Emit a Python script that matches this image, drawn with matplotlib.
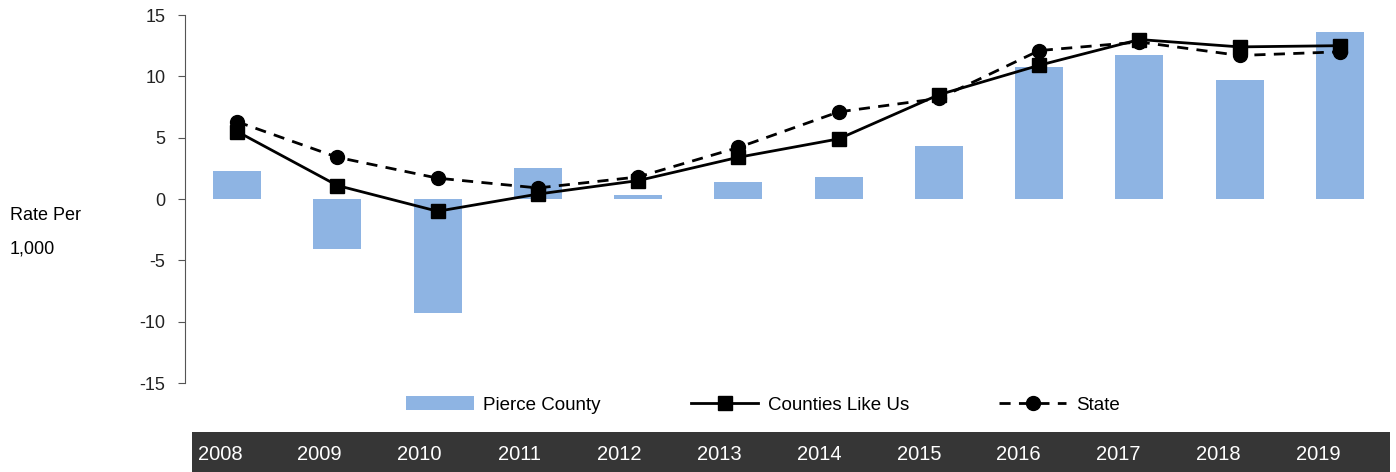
import numpy as np
import matplotlib
matplotlib.use("Agg")
import matplotlib.pyplot as plt

plt.rcParams['font.family'] = ['Liberation Sans', 'DejaVu Sans']

years = ['2008', '2009', '2010', '2011', '2012', '2013', '2014', '2015', '2016', '2017', '2018', '2019']
pierce = [2.3, -4.1, -9.3, 2.5, 0.3, 1.4, 1.8, 4.3, 10.8, 11.7, 9.7, 13.6]
counties_like_us = [5.5, 1.1, -1.0, 0.4, 1.5, 3.4, 4.9, 8.5, 10.9, 13.0, 12.4, 12.5]
state = [6.3, 3.4, 1.7, 0.9, 1.8, 4.2, 7.1, 8.2, 12.1, 12.8, 11.7, 12.0]
yticks = [-15, -10, -5, 0, 5, 10, 15]

W, H = 1396, 472
fig = plt.figure(figsize=(W / 100, H / 100), dpi=100)

ax = fig.add_axes([185 / W, (H - 383) / H, (1390 - 185) / W, (383 - 15) / H])
x = np.arange(len(years))
bars = ax.bar(x, pierce, width=0.48, color='#8EB4E3', label='Pierce County', zorder=1)
l1, = ax.plot(x, counties_like_us, color='black', lw=2, marker='s', markersize=10,
              label='Counties Like Us', zorder=3)
l2, = ax.plot(x, state, color='black', lw=2, ls=(0, (4, 3)), marker='o', markersize=10,
              label='State', zorder=2)

ax.set_xlim(-0.52, 11.5)
ax.set_ylim(-15, 15)
ax.set_yticks(yticks)
ax.set_yticklabels([str(v) for v in yticks], fontsize=13, color='#222222')
ax.set_xticks([])
for s in ['top', 'right', 'bottom']:
    ax.spines[s].set_visible(False)
ax.spines['left'].set_color('#555555')
ax.tick_params(axis='y', direction='out', length=5, color='#555555', pad=9)

fig.text(10 / W, 1 - 216 / H, 'Rate Per', fontsize=13, va='center', ha='left')
fig.text(10 / W, 1 - 249 / H, '1,000', fontsize=13, va='center', ha='left')

fig.legend(handles=[bars, l1, l2], loc='center', bbox_to_anchor=(763 / W, 1 - 405 / H),
           ncol=3, frameon=False, fontsize=13.5, handlelength=3.6, columnspacing=4.8,
           handletextpad=0.5)

band = fig.add_axes([192 / W, 0, (1390 - 192) / W, 40 / H])
band.set_facecolor('#363636')
band.set_xlim(0, len(years))
band.set_ylim(0, 1)
band.set_xticks([])
band.set_yticks([])
for s in band.spines.values():
    s.set_visible(False)
for i, yr in enumerate(years):
    band.text(i + 0.28, 0.45, yr, color='white', fontsize=14.5, ha='center', va='center')

fig.savefig('out.png', dpi=100)
